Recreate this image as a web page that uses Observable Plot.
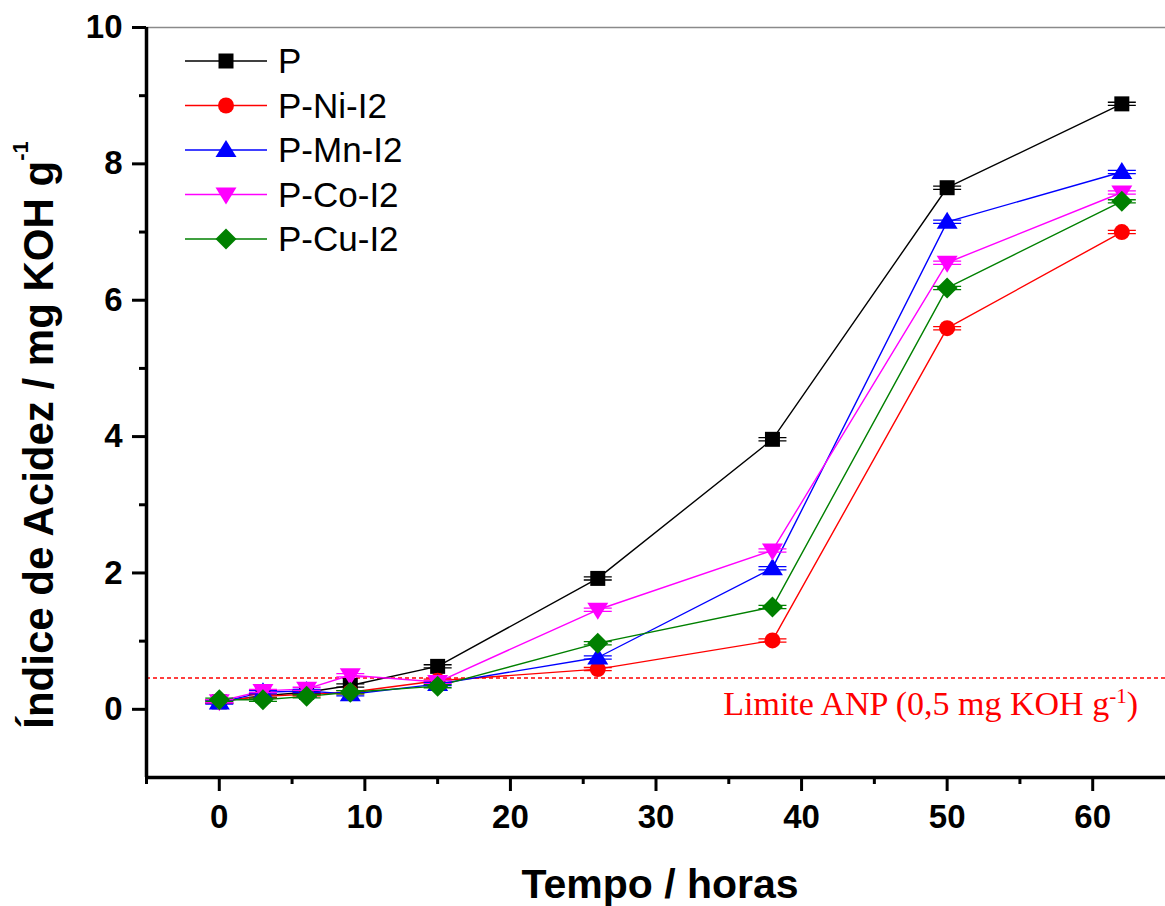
<!DOCTYPE html>
<html><head><meta charset="utf-8">
<script src="https://cdn.jsdelivr.net/npm/d3@7"></script>
<script src="https://cdn.jsdelivr.net/npm/@observablehq/plot@0.6"></script>
<style>
body{margin:0;background:#fff}
svg{display:block}
</style>
</head><body><div id="chart"></div>
<script>
// ---- data ----
const tempo = [0, 3, 6, 9, 15, 26, 38, 50, 62];
const seriesNames = ["P", "P-Ni-I2", "P-Mn-I2", "P-Co-I2", "P-Cu-I2"];
const valP   = [0.11, 0.20, 0.25, 0.35, 0.63, 1.92, 3.96, 7.65, 8.88];
const valNi  = [0.12, 0.19, 0.22, 0.25, 0.42, 0.59, 1.01, 5.59, 7.00];
const valMn  = [0.10, 0.25, 0.27, 0.22, 0.37, 0.76, 2.07, 7.15, 7.88];
const valCo  = [0.12, 0.27, 0.30, 0.50, 0.40, 1.46, 2.33, 6.55, 7.58];
const valCu  = [0.14, 0.14, 0.19, 0.25, 0.34, 0.97, 1.50, 6.18, 7.45];
const limite = 0.46;
const xMajor = [0, 10, 20, 30, 40, 50, 60];
const xMinor = [-5, 5, 15, 25, 35, 45, 55];
const yMajor = [0, 2, 4, 6, 8, 10];
const yMinor = [1, 3, 5, 7, 9];

const colors = ["#000000", "#ff0000", "#0000ff", "#ff00ff", "#008000"];
const allValues = [valP, valNi, valMn, valCo, valCu];

const rows = [];
seriesNames.forEach((s, i) => tempo.forEach((t, j) => rows.push({serie: s, tempo: t, valor: allValues[i][j]})));

// ---- custom symbols ----
const symSquare = {draw(c, size){ const h = 7.5; c.moveTo(-h,-h); c.lineTo(h,-h); c.lineTo(h,h); c.lineTo(-h,h); c.closePath(); }};
const symCircle = {draw(c, size){ const r = 8; c.moveTo(r,0); c.arc(0,0,r,0,2*Math.PI); c.closePath(); }};
const symUp = {draw(c, size){ c.moveTo(0,-10); c.lineTo(10.5,7); c.lineTo(-10.5,7); c.closePath(); }};
const symDown = {draw(c, size){ c.moveTo(0,10); c.lineTo(10.5,-7); c.lineTo(-10.5,-7); c.closePath(); }};
const symDiamond = {draw(c, size){ const h = 10.5; c.moveTo(0,-h); c.lineTo(h,0); c.lineTo(0,h); c.lineTo(-h,0); c.closePath(); }};
const symCap = {draw(c, size){ c.moveTo(-14,-1.6); c.lineTo(14,-1.6); c.moveTo(-14,1.6); c.lineTo(14,1.6); c.moveTo(0,-1.6); c.lineTo(0,1.6);} };
const symbols = [symSquare, symCircle, symUp, symDown, symDiamond];

const font = "'Liberation Sans', Arial, sans-serif";

const marks = [
  Plot.ruleY([10], {stroke: "#8a8a8a", strokeWidth: 1.5}),
  Plot.ruleY([limite], {stroke: "#ff0000", strokeWidth: 1.4, strokeDasharray: "4,3"}),
  Plot.line(rows, {x: "tempo", y: "valor", z: "serie", stroke: "serie", strokeWidth: 1.4}),
];
seriesNames.forEach((s, i) => {
  const sub = rows.filter(d => d.serie === s);
  marks.push(Plot.dot(sub, {x: "tempo", y: "valor", symbol: symCap, r: 5, fill: "none", stroke: colors[i], strokeWidth: 1.3}));
  marks.push(Plot.dot(sub, {x: "tempo", y: "valor", symbol: symbols[i], r: 8, fill: colors[i], stroke: "none"}));
});
marks.push(
  Plot.axisX({ticks: xMajor, tickSize: 14, tickPadding: 13, strokeWidth: 3, fontSize: 33, fontWeight: "bold", label: null, tickFormat: d => String(d)}),
  Plot.axisX({ticks: xMinor, tickSize: 7, strokeWidth: 3, tickFormat: () => "", label: null}),
  Plot.axisY({ticks: yMajor, tickSize: 14, tickPadding: 10, strokeWidth: 3, fontSize: 33, fontWeight: "bold", label: null, tickFormat: d => String(d)}),
  Plot.axisY({ticks: yMinor, tickSize: 7, strokeWidth: 3, tickFormat: () => "", label: null}),
  Plot.ruleX([-5], {stroke: "#000", strokeWidth: 3.5}),
  Plot.ruleY([-1], {stroke: "#000", strokeWidth: 3.5})
);

const chart = Plot.plot({
  width: 1165,
  height: 906,
  marginLeft: 146,
  marginRight: 0,
  marginTop: 27,
  marginBottom: 129,
  style: {fontFamily: font, background: "#fff", color: "#000"},
  x: {domain: [-5, 65]},
  y: {domain: [-1, 10]},
  color: {domain: seriesNames, range: colors},
  marks
});
document.getElementById("chart").appendChild(chart);

// ---- titles, annotation, legend ----
const svg = d3.select(chart);
svg.selectAll("text").style("font-family", font);

const yt = svg.append("text")
  .attr("transform", "translate(53,435) rotate(-90)")
  .attr("text-anchor", "middle")
  .style("font-family", font).style("font-weight", "bold").style("font-size", "42px").attr("fill", "#000");
yt.append("tspan").text("Índice de Acidez / mg KOH g");
yt.append("tspan").attr("dy", -25).style("font-size", "22px").text("-1");

svg.append("text")
  .attr("x", 660).attr("y", 898)
  .attr("text-anchor", "middle")
  .style("font-family", font).style("font-weight", "bold").style("font-size", "41px").attr("fill", "#000")
  .text("Tempo / horas");

const ann = svg.append("text")
  .attr("x", 1138).attr("y", 715)
  .attr("text-anchor", "end")
  .style("font-family", "'Liberation Serif', 'Times New Roman', serif").style("font-size", "34px").attr("fill", "#ff0000");
ann.append("tspan").text("Limite ANP (0,5 mg KOH g");
ann.append("tspan").attr("dy", -12).style("font-size", "21px").text("-1");
ann.append("tspan").attr("dy", 12).text(")");

const leg = svg.append("g").attr("text-anchor", "start");
seriesNames.forEach((s, i) => {
  const cy = 61 + 44.5 * i;
  leg.append("line").attr("x1", 185).attr("x2", 267).attr("y1", cy).attr("y2", cy)
    .attr("stroke", colors[i]).attr("stroke-width", 1.4);
  const p = d3.path();
  symbols[i].draw(p, 64 * Math.PI);
  leg.append("path").attr("d", p.toString()).attr("transform", `translate(226,${cy})`).attr("fill", colors[i]);
  leg.append("text").attr("x", 278).attr("y", cy + 12).attr("text-anchor", "start")
    .style("font-family", font).style("font-size", "35px").attr("fill", "#000").text(s);
});
</script>
</body></html>
